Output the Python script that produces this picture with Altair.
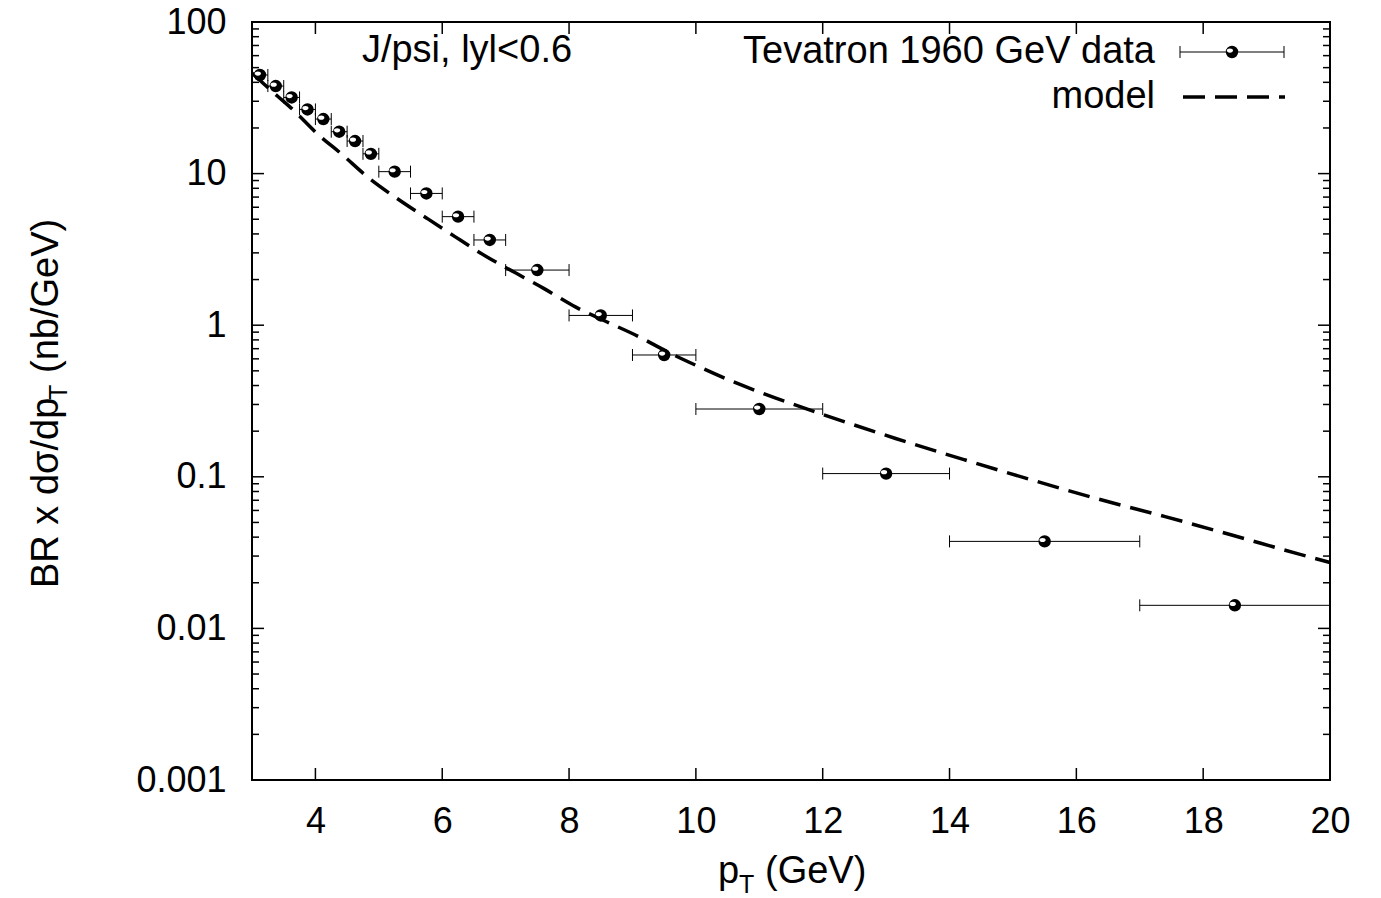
import altair as alt
import pandas as pd

# ---------------- data ----------------
pt_center = [3.125, 3.375, 3.625, 3.875, 4.125, 4.375, 4.625, 4.875,
             5.25, 5.75, 6.25, 6.75, 7.5, 8.5, 9.5, 11.0, 13.0, 15.5, 18.5]
pt_low = [3.0, 3.25, 3.5, 3.75, 4.0, 4.25, 4.5, 4.75,
          5.0, 5.5, 6.0, 6.5, 7.0, 8.0, 9.0, 10.0, 12.0, 14.0, 17.0]
pt_high = [3.25, 3.5, 3.75, 4.0, 4.25, 4.5, 4.75, 5.0,
           5.5, 6.0, 6.5, 7.0, 8.0, 9.0, 10.0, 12.0, 14.0, 17.0, 20.0]
xsec = [44.7, 37.8, 31.8, 26.5, 22.9, 18.9, 16.4, 13.5,
        10.3, 7.4, 5.2, 3.65, 2.31, 1.16, 0.636, 0.28, 0.105, 0.0375, 0.0142]

model_pt = [3.0, 3.4, 3.65, 4.05, 4.4, 4.85, 5.3, 5.75, 6.2, 6.7, 7.0, 7.6,
            8.1, 8.6, 9.1, 9.55, 10.05, 10.55, 11.1, 12.0, 13.15, 14.25,
            15.3, 16.3, 17.4, 18.45, 19.5, 20.0]
model_val = [46.0, 32.5, 26.3, 18.0, 13.6, 9.3, 6.8, 5.1, 3.84, 2.83, 2.4, 1.75,
             1.32, 1.05, 0.84, 0.668, 0.532, 0.43, 0.35, 0.258, 0.179, 0.129,
             0.0953, 0.0722, 0.0546, 0.0413, 0.031, 0.0272]

x_tick_values = [4, 6, 8, 10, 12, 14, 16, 18, 20]
y_tick_values = [0.001, 0.01, 0.1, 1, 10, 100]
y_minor_values = [m * d for d in [0.001, 0.01, 0.1, 1, 10] for m in range(2, 10)]

FONT = "Liberation Sans"

data_df = pd.DataFrame({"pt": pt_center, "lo": pt_low, "hi": pt_high, "val": xsec})
model_df = pd.DataFrame({"pt": model_pt, "val": model_val})
xt_df = pd.DataFrame({"pt": x_tick_values})
yt_df = pd.DataFrame({"val": y_tick_values})
ym_df = pd.DataFrame({"val": y_minor_values})
one = pd.DataFrame({"k": [0]})

W, H = 1078, 758
xs = alt.Scale(domain=[3, 20], nice=False, zero=False)
ys = alt.Scale(type="log", domain=[0.001, 100], nice=False)

x_axis = alt.Axis(values=x_tick_values, title=None, ticks=False, tickSize=0, domain=False,
                  grid=False, labelFont=FONT, labelFontSize=36, labelColor="black",
                  labelPadding=24, labelFlush=False, labelOverlap=False)
y_axis = alt.Axis(values=y_tick_values, title=None, ticks=False, tickSize=0, domain=False,
                  grid=False, labelFont=FONT, labelFontSize=36, labelColor="black",
                  labelPadding=26, labelFlush=False, labelOverlap=False, format="~g")


def X(field):
    return alt.X(field, type="quantitative", scale=xs, axis=x_axis)


def Y(field):
    return alt.Y(field, type="quantitative", scale=ys, axis=y_axis)


# inward ticks
xt_bottom = alt.Chart(xt_df).mark_rule(color="black", strokeWidth=1.5).encode(
    x=X("pt"), y=alt.value(H), y2=alt.value(H - 12))
xt_top = alt.Chart(xt_df).mark_rule(color="black", strokeWidth=1.5).encode(
    x=X("pt"), y=alt.value(0), y2=alt.value(12))
yt_left = alt.Chart(yt_df).mark_rule(color="black", strokeWidth=1.5).encode(
    y=Y("val"), x=alt.value(0), x2=alt.value(12))
yt_right = alt.Chart(yt_df).mark_rule(color="black", strokeWidth=1.5).encode(
    y=Y("val"), x=alt.value(W), x2=alt.value(W - 12))
ym_left = alt.Chart(ym_df).mark_rule(color="black", strokeWidth=1.5).encode(
    y=Y("val"), x=alt.value(0), x2=alt.value(7))
ym_right = alt.Chart(ym_df).mark_rule(color="black", strokeWidth=1.5).encode(
    y=Y("val"), x=alt.value(W), x2=alt.value(W - 7))

# model curve
model_line = alt.Chart(model_df).mark_line(
    color="black", strokeWidth=3.5, strokeDash=[22, 10], interpolate="monotone"
).encode(x=X("pt"), y=Y("val"))

# data: horizontal error bars, caps, balls
CAP = "M0,-1L0,1"
HL = "M-0.75,-0.2 A0.45,0.3 0 1,1 0.15,-0.2 A0.45,0.3 0 1,1 -0.75,-0.2 Z"
err = alt.Chart(data_df).mark_rule(color="black", strokeWidth=1).encode(
    x=X("lo"), x2="hi:Q", y=Y("val"))
cap_lo = alt.Chart(data_df).mark_point(shape=CAP, size=144, filled=False, color="black",
                                       strokeWidth=1, opacity=1).encode(x=X("lo"), y=Y("val"))
cap_hi = alt.Chart(data_df).mark_point(shape=CAP, size=144, filled=False, color="black",
                                       strokeWidth=1, opacity=1).encode(x=X("hi"), y=Y("val"))
balls = alt.Chart(data_df).mark_point(shape="circle", size=154, filled=True, color="black",
                                      opacity=1, strokeWidth=0).encode(x=X("pt"), y=Y("val"))
hilite = alt.Chart(data_df).mark_point(shape=HL, size=196, filled=True, color="white",
                                       opacity=1, strokeWidth=0).encode(x=X("pt"), y=Y("val"))


def txt(s, x, y, size=38, align="left", baseline="alphabetic", angle=0):
    return alt.Chart(one).mark_text(
        font=FONT, fontSize=size, color="black", align=align, baseline=baseline, angle=angle
    ).encode(x=alt.value(x), y=alt.value(y), text=alt.value(s))


# annotation and legend
annot = txt("J/psi, lyl<0.6", 215, 29, align="center", baseline="middle")
leg1 = txt("Tevatron 1960 GeV data", 903, 30, align="right", baseline="middle")
leg2 = txt("model", 903, 75, align="right", baseline="middle")
leg_bar = alt.Chart(one).mark_rule(color="black", strokeWidth=1).encode(
    x=alt.value(928), x2=alt.value(1032), y=alt.value(30))
leg_cap1 = alt.Chart(one).mark_rule(color="black", strokeWidth=1).encode(
    x=alt.value(928), y=alt.value(24), y2=alt.value(36))
leg_cap2 = alt.Chart(one).mark_rule(color="black", strokeWidth=1).encode(
    x=alt.value(1032), y=alt.value(24), y2=alt.value(36))
leg_ball = alt.Chart(one).mark_point(shape="circle", size=154, filled=True, color="black",
                                     opacity=1, strokeWidth=0).encode(
    x=alt.value(980), y=alt.value(30))
leg_hl = alt.Chart(one).mark_point(shape=HL, size=196, filled=True, color="white",
                                   opacity=1, strokeWidth=0).encode(
    x=alt.value(980), y=alt.value(30))
leg_dash = alt.Chart(one).mark_rule(color="black", strokeWidth=3.5, strokeDash=[22, 10]).encode(
    x=alt.value(931), x2=alt.value(1033), y=alt.value(75))

# axis titles with subscripts
xt_p = txt("p", 466, 861)
xt_T = txt("T", 487, 871, size=25)
xt_rest = txt("(GeV)", 513, 861)

yt_a = txt("BR x dσ/dp", -194, 566, angle=270)
yt_T = txt("T", -185, 566 - 188, size=25, angle=270)
yt_b = txt("(nb/GeV)", -194, 566 - 188 - 16 - 11, angle=270)

chart = alt.layer(
    xt_bottom, xt_top, yt_left, yt_right, ym_left, ym_right,
    model_line, err, cap_lo, cap_hi, balls, hilite,
    annot, leg1, leg2, leg_bar, leg_cap1, leg_cap2, leg_ball, leg_hl, leg_dash,
    xt_p, xt_T, xt_rest, yt_a, yt_T, yt_b,
).properties(
    width=W, height=H,
    autosize=alt.AutoSizeParams(type="none"),
    padding={"left": 252, "top": 22, "right": 51, "bottom": 118},
    background="white",
).configure_view(stroke="black", strokeWidth=2, fill="white")

chart.save("out.html", embed_options={"renderer": "svg", "actions": False})
